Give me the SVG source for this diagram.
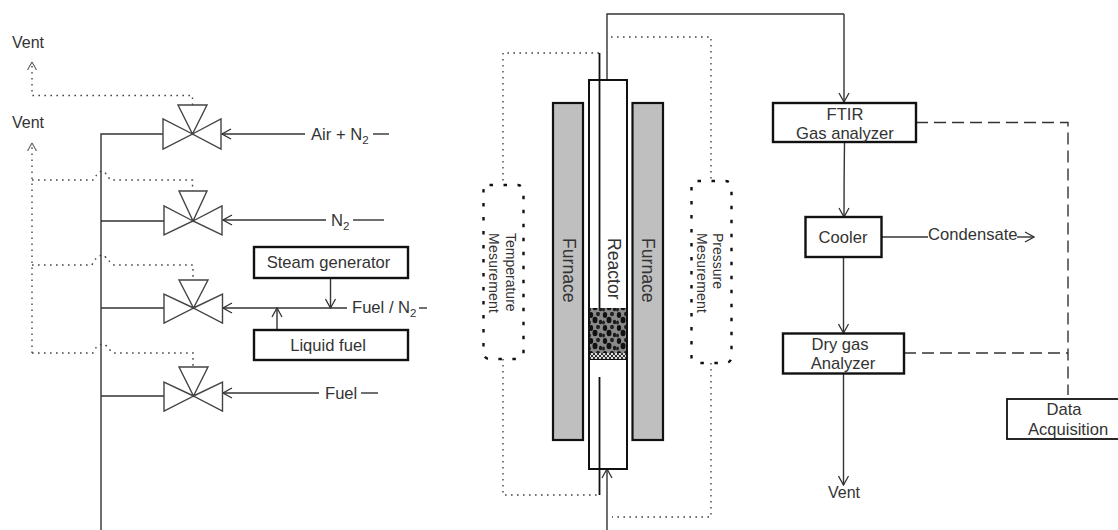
<svg xmlns="http://www.w3.org/2000/svg" width="1118" height="530" viewBox="0 0 1118 530">
<style>
text{font-family:"Liberation Sans",Arial,sans-serif;font-size:16.6px;fill:#333}
.m{text-anchor:middle}
.vt{font-size:16px}
.s{font-size:14px}
.r{font-size:17.6px}
.sub{font-size:11.5px}
.box{fill:#fff;stroke:#111;stroke-width:2.4}
.thin{stroke-width:1.8}
.v{fill:#fff;stroke:#444;stroke-width:1.4;stroke-linejoin:miter}
.l{fill:none;stroke:#333;stroke-width:1.4}
.a{fill:none;stroke:#333;stroke-width:1.4;marker-end:url(#arr)}
.d{fill:none;stroke:#444;stroke-width:1.4;stroke-dasharray:1.6 4.4}
.dd{fill:none;stroke:#333;stroke-width:1.4;stroke-dasharray:12 6}
.th{fill:none;stroke:#111;stroke-width:1.8}
.fur{fill:#bfbfbf;stroke:#111;stroke-width:2.2}
.dbox{fill:none;stroke:#111;stroke-width:2.4;stroke-dasharray:3.5 10.5}
</style>
<defs>
<marker id="arr" viewBox="-10 -6 11 12" markerWidth="11" markerHeight="12" refX="0" refY="0" markerUnits="userSpaceOnUse" orient="auto"><path d="M-9,-5 L0,0 L-9,5" fill="none" stroke="#333" stroke-width="1.3"/></marker>
<pattern id="bed" width="14" height="13" patternUnits="userSpaceOnUse">
<rect width="14" height="13" fill="#8a8a8a"/>
<ellipse cx="3" cy="3" rx="2.2" ry="3" fill="#111"/>
<ellipse cx="10" cy="2" rx="2" ry="2.2" fill="#222"/>
<ellipse cx="7" cy="8" rx="2.5" ry="3.2" fill="#111"/>
<ellipse cx="12.5" cy="10" rx="1.7" ry="2.3" fill="#1a1a1a"/>
<ellipse cx="1.5" cy="10.5" rx="1.5" ry="2" fill="#222"/>
</pattern>
<pattern id="mesh" width="4" height="4" patternUnits="userSpaceOnUse">
<rect width="4" height="4" fill="#ddd"/>
<path d="M0,0 L4,4 M4,0 L0,4" stroke="#333" stroke-width="1"/>
</pattern>
</defs>

<g id="connectors">
<path class="l" d="M101,530 V134 H163 M101,221 H164 M101,308 H164 M101,396 H164"/>
<path class="a" d="M305,134 H222"/><path class="l" d="M373,134 H389"/>
<path class="a" d="M326,220 H223"/><path class="l" d="M353,220 H384"/>
<path class="a" d="M347,308 H223"/><path class="l" d="M419,308 H427"/>
<path class="a" d="M319,393 H223"/><path class="l" d="M361,393 H378"/>
<path class="a" d="M330.500,278 V308"/>
<path class="a" d="M277,330 V308"/>
<path class="d" d="M192.500,105 V95.500 H32 V62"/>
<path class="d" d="M32,353 V143"/>
<path class="d" d="M32,180 H94 Q97,172 102,171 Q106,172 110,180 H192.500 V191"/>
<path class="d" d="M32,265 H92 Q96,256 102,255 Q106,256 112,265 H193 V280"/>
<path class="d" d="M32,353 H93 Q96,345 103,344 Q107,345 112,353 H193 V367"/>
<path d="M32,62 L27.500,70 M32,62 L36.500,70 M32,143 L27.500,151 M32,143 L36.500,151" fill="none" stroke="#666" stroke-width="1.200"/>
<path class="l" d="M607,80 V14 H844"/>
<path class="a" d="M844,14 V102"/>
<path class="a" d="M607,530 V469"/>
<path class="d" d="M599,53 H503 V185"/>
<path class="d" d="M503,359 V495 H599"/>
<path class="d" d="M611,37 H711 V181"/>
<path class="d" d="M711,363 V517 H612"/>
<path class="a" d="M844.500,142 Q844,180 844,217"/>
<path class="a" d="M843.500,257 V333"/>
<path class="a" d="M843.500,373 V485"/>
<path class="l" d="M881,237 H928"/>
<path class="a" d="M1017,237 H1034"/>
<path class="dd" d="M916,122.500 H1068 V395"/>
<path class="dd" d="M904,353 H1068"/>
</g>

<g id="valve-1"><path class="v" d="M192.500,134 L163,119 V149 Z M192.500,134 L221,119 V149 Z M192.500,134 L178,105 H207 Z"/></g>
<g id="valve-2"><path class="v" d="M193,221 L164,206 V235 Z M193,221 L222,206 V235 Z M193,221 L179,191 H207 Z"/></g>
<g id="valve-3"><path class="v" d="M193.500,308 L164,294 V323 Z M193.500,308 L222.500,294 V323 Z M193.500,308 L179,280 H208 Z"/></g>
<g id="valve-4"><path class="v" d="M193.500,396 L164,382 V411 Z M193.500,396 L222.500,382 V411 Z M193.500,396 L179,367 H208 Z"/></g>

<g id="label-vent-1"><text x="28" y="48" class="m vt">Vent</text></g>
<g id="label-vent-2"><text x="28" y="128" class="m vt">Vent</text></g>
<g id="label-air"><text x="311" y="140">Air + N<tspan class="sub" dy="4">2</tspan></text></g>
<g id="label-n2"><text x="331" y="226">N<tspan class="sub" dy="4">2</tspan></text></g>
<g id="label-fuel-n2"><text x="352" y="313">Fuel / N<tspan class="sub" dy="4">2</tspan></text></g>
<g id="label-fuel"><text x="325" y="399">Fuel</text></g>

<g id="steam-generator"><rect class="box" x="254" y="247" width="154" height="31"/><text x="328.500" y="268" class="m">Steam generator</text></g>
<g id="liquid-fuel"><rect class="box" x="254" y="330" width="154" height="30"/><text x="328" y="351" class="m">Liquid fuel</text></g>

<g id="furnace-left"><rect class="fur" x="553" y="103" width="30" height="337"/><text class="r" transform="translate(563,238) rotate(90)">Furnace</text></g>
<g id="furnace-right"><rect class="fur" x="632.500" y="103" width="30.500" height="337"/><text class="r" transform="translate(642,238) rotate(90)">Furnace</text></g>

<g id="reactor">
<rect x="589" y="80" width="38" height="389" fill="#fff" stroke="#111" stroke-width="2"/>
<rect x="590" y="308" width="36" height="45" fill="url(#bed)"/>
<rect x="590" y="353" width="36" height="6" fill="url(#mesh)"/>
<path d="M590,359.500 H626" stroke="#111" stroke-width="1"/>
<text class="r" transform="translate(608,238) rotate(90)">Reactor</text>
<path class="th" d="M599.500,53 V308 M599.500,377 V495"/>
</g>

<g id="temperature-measurement">
<rect class="dbox" x="483.500" y="185" width="40" height="174" rx="6"/>
<text class="s" transform="translate(506,233) rotate(90)">Temperature</text>
<text class="s" textLength="80" transform="translate(489,233) rotate(90)">Mesurement</text>
</g>
<g id="pressure-measurement">
<rect class="dbox" x="691.500" y="181" width="40" height="182" rx="6"/>
<text class="s" transform="translate(713,233) rotate(90)">Pressure</text>
<text class="s" textLength="80" transform="translate(697,233) rotate(90)">Mesurement</text>
</g>

<g id="ftir"><rect class="box" x="773" y="103" width="143" height="39"/><text x="845" y="120" class="m">FTIR</text><text x="845" y="139" class="m">Gas analyzer</text></g>
<g id="cooler"><rect class="box" x="805.500" y="217" width="76" height="40"/><text x="843" y="243" class="m">Cooler</text></g>
<g id="dry-gas"><rect class="box" x="783" y="333.500" width="121" height="40"/><text x="840" y="350" class="m">Dry gas</text><text x="843" y="369" class="m">Analyzer</text></g>
<g id="data-acquisition"><rect class="box thin" x="1007" y="399" width="120" height="40"/><text x="1064" y="415" class="m">Data</text><text x="1068" y="435" class="m">Acquisition</text></g>
<g id="label-condensate"><text x="928" y="240">Condensate</text></g>
<g id="label-vent-3"><text x="844" y="498" class="m vt">Vent</text></g>
</svg>
